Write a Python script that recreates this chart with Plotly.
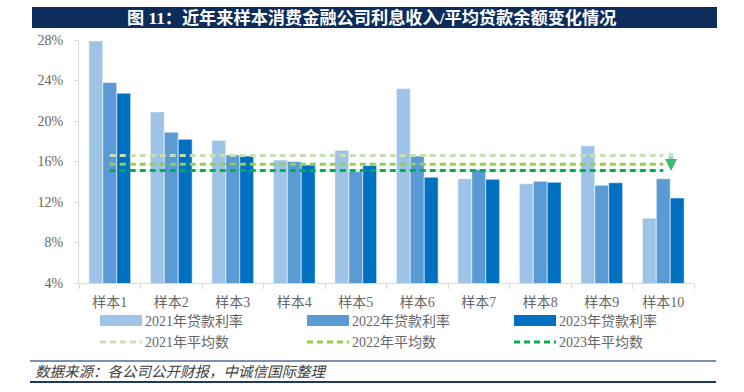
import plotly.graph_objects as go

# ---------------- data ----------------
categories = ["样本1", "样本2", "样本3", "样本4", "样本5", "样本6", "样本7", "样本8", "样本9", "样本10"]
rate_2021 = [27.9, 20.9, 18.1, 16.15, 17.1, 23.2, 14.3, 13.8, 17.55, 10.4]
rate_2022 = [23.8, 18.9, 16.65, 16.0, 15.0, 16.55, 15.2, 14.05, 13.65, 14.3]
rate_2023 = [22.75, 18.2, 16.55, 15.65, 15.6, 14.45, 14.25, 13.95, 13.9, 12.4]
avg_2021 = 16.6
avg_2022 = 15.72
avg_2023 = 15.12
y_ticks = [4, 8, 12, 16, 20, 24, 28]
y_tick_labels = ["4%", "8%", "12%", "16%", "20%", "24%", "28%"]

bar_names = ["2021年贷款利率", "2022年贷款利率", "2023年贷款利率"]
avg_names = ["2021年平均数", "2022年平均数", "2023年平均数"]
title_text = "图 11：近年来样本消费金融公司利息收入/平均贷款余额变化情况"
source_text = "数据来源：各公司公开财报，中诚信国际整理"

# ---------------- styles ----------------
W, H = 744, 392
L, R, T, B = 79, 50, 40, 109
PW, PH = W - L - R, H - T - B
bar_colors = ["#9DC3E6", "#5B9BD5", "#0070C0"]
avg_colors = ["#C5E0B4", "#92D050", "#00B050"]
FONT = "Liberation Serif, Noto Sans CJK SC, serif"
TXT = "#666666"


def px(xp):
    return (xp - L) / PW


def py(yp):
    return (H - B - yp) / PH


fig = go.Figure()
for name, vals, col in zip(bar_names, [rate_2021, rate_2022, rate_2023], bar_colors):
    fig.add_trace(go.Bar(x=categories, y=vals, name=name, marker_color=col,
                         marker_line=dict(color="rgba(255,255,255,0.7)", width=0.8),
                         showlegend=False))
for name, v, col in zip(avg_names, [avg_2021, avg_2022, avg_2023], avg_colors):
    fig.add_trace(go.Scatter(x=categories, y=[v] * len(categories), name=name, mode="lines",
                             line=dict(color=col, width=3, dash="6px,4px"), showlegend=False))

shapes = []
annotations = []

# title bar
shapes.append(dict(type="rect", xref="paper", yref="paper", x0=px(32), x1=px(717), y0=py(28), y1=py(7),
                   fillcolor="#0C2D5C", line=dict(width=0), layer="above"))
annotations.append(dict(xref="paper", yref="paper", x=px(371), y=py(17.5), text="<b>" + title_text + "</b>",
                        showarrow=False, xanchor="center", yanchor="middle",
                        font=dict(family=FONT, size=17.2, color="white")))

# footer
shapes.append(dict(type="line", xref="paper", yref="paper", x0=px(30), x1=px(716), y0=py(361), y1=py(361),
                   line=dict(color="#4A6F96", width=1.5)))
shapes.append(dict(type="line", xref="paper", yref="paper", x0=px(30), x1=px(716), y0=py(382), y1=py(382),
                   line=dict(color="#1F3864", width=2)))
annotations.append(dict(xref="paper", yref="paper", x=px(33), y=py(372), text="<i>" + source_text + "</i>",
                        showarrow=False, xanchor="left", yanchor="middle",
                        font=dict(family=FONT, size=14.5, color="#404040")))

# legend (manual, wide swatches)
col_x = [100, 307, 514]
for i in range(3):
    x0 = col_x[i]
    shapes.append(dict(type="rect", xref="paper", yref="paper", x0=px(x0), x1=px(x0 + 42),
                       y0=py(326), y1=py(315), fillcolor=bar_colors[i], line=dict(width=0)))
    annotations.append(dict(xref="paper", yref="paper", x=px(x0 + 43), y=py(320.5), text=bar_names[i],
                            showarrow=False, xanchor="left", yanchor="middle",
                            font=dict(family=FONT, size=14, color=TXT)))
    shapes.append(dict(type="line", xref="paper", yref="paper", x0=px(x0), x1=px(x0 + 42),
                       y0=py(342), y1=py(342), line=dict(color=avg_colors[i], width=3, dash="6px,4px")))
    annotations.append(dict(xref="paper", yref="paper", x=px(x0 + 43), y=py(342), text=avg_names[i],
                            showarrow=False, xanchor="left", yanchor="middle",
                            font=dict(family=FONT, size=14, color=TXT)))

# down arrow (shaft in graded greens, small head)
shaft_cols = ["#C2E8CD", "#9CDAAE", "#76CC90"]
for k, c in enumerate(shaft_cols):
    shapes.append(dict(type="line", xref="paper", yref="paper", x0=px(671), x1=px(671),
                       y0=py(153 + 4 * k), y1=py(153 + 4 * (k + 1)), line=dict(color=c, width=5), layer="above"))
annotations.append(dict(xref="paper", yref="paper", x=px(671), y=py(171), ax=0, ay=-6, text="",
                        showarrow=True, arrowhead=2, arrowsize=0.8, arrowwidth=3, arrowcolor="#3DBB6A"))

fig.update_layout(
    width=W, height=H,
    margin=dict(l=L, r=R, t=T, b=B, pad=0),
    paper_bgcolor="white", plot_bgcolor="white",
    barmode="group", bargap=0.32, bargroupgap=0,
    font=dict(family=FONT, size=14, color=TXT),
    shapes=shapes, annotations=annotations,
    showlegend=False,
)
fig.update_xaxes(showline=True, linecolor="#D9D9D9", linewidth=1, ticks="outside", tickson="boundaries",
                 ticklen=5, tickcolor="#D9D9D9", showgrid=False, tickfont=dict(size=14, color=TXT),
                 ticklabelstandoff=6)
fig.update_yaxes(range=[4, 28], tickvals=y_ticks, ticktext=y_tick_labels, showline=True, linecolor="#D9D9D9",
                 ticks="outside", ticklen=4, tickcolor="#D9D9D9", showgrid=False, zeroline=False,
                 tickfont=dict(size=14, color=TXT), ticklabelstandoff=8)

fig.write_html("out.html", config={"displayModeBar": False},
               post_script="document.body.style.margin='0';")
